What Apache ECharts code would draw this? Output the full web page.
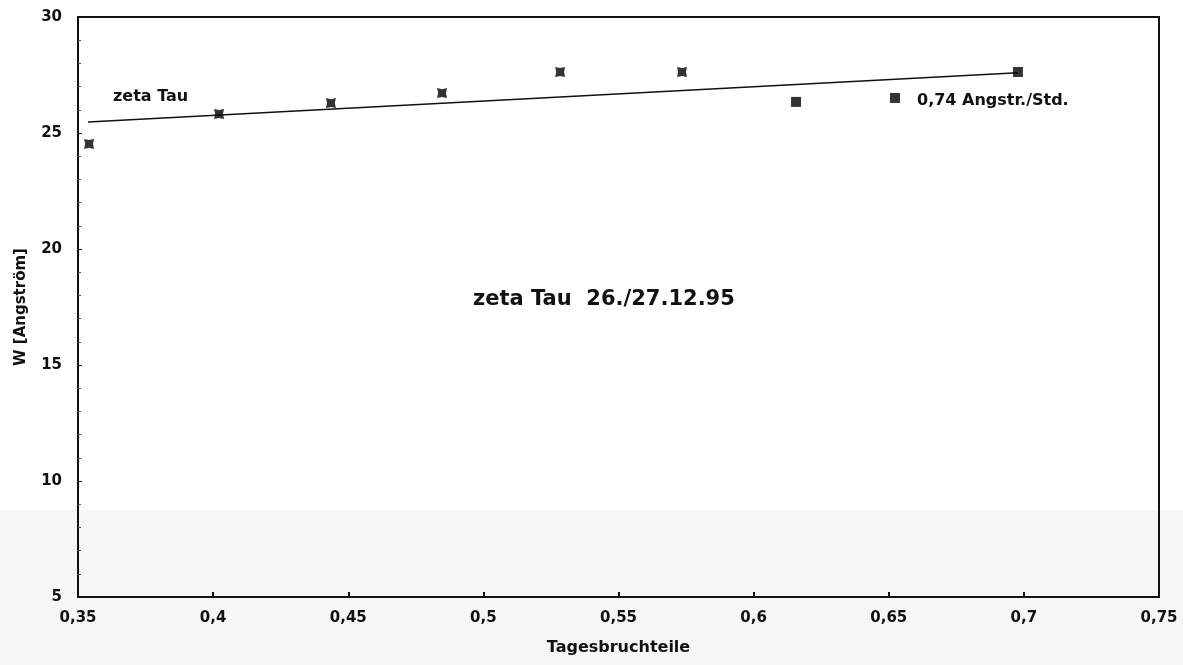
<!DOCTYPE html>
<html>
<head>
<meta charset="utf-8">
<script src="https://cdn.jsdelivr.net/npm/echarts@6/dist/echarts.min.js"></script>
<style>
html,body{margin:0;padding:0;background:#fff;}
#c{width:1183px;height:665px;}
</style>
</head>
<body>
<div id="c"></div>
<script>
// Measured points: Tagesbruchteile (x) and equivalent width W [Angström] (y)
var xValues = [0.3541, 0.4022, 0.4436, 0.4847, 0.5284, 0.5735, 0.6157, 0.6523, 0.6978];
var wValues = [24.53, 25.82, 26.29, 26.72, 27.63, 27.63, 26.34, 26.51, 27.63];
// marker style per point: 'star' = notched square, 'square' = plain square
var markerKinds = ['star', 'star', 'star', 'star', 'star', 'star', 'square', 'square', 'square'];
// Trend line end points
var trendX = [0.3537, 0.6978];
var trendW = [25.47, 27.60];
// Tick labels
var xTickLabels = ['0,35', '0,4', '0,45', '0,5', '0,55', '0,6', '0,65', '0,7', '0,75'];
var yTickLabels = ['5', '10', '15', '20', '25', '30'];

var FONT = '"DejaVu Sans", sans-serif';
var notched = 'path://M0,0 L5,1.1 L10,0 L8.9,5 L10,10 L5,8.9 L0,10 L1.1,5 Z';

var pts = xValues.map(function (x, i) {
  return {
    value: [x, wValues[i]],
    symbol: markerKinds[i] === 'star' ? notched : 'rect'
  };
});
var trend = trendX.map(function (x, i) { return [x, trendW[i]]; });

var chart = echarts.init(document.getElementById('c'), null, { renderer: 'canvas' });
chart.setOption({
  animation: false,
  backgroundColor: '#ffffff',
  graphic: [
    { type: 'rect', z: -10, silent: true, shape: { x: 0, y: 510, width: 1183, height: 155 }, style: { fill: '#f6f6f6' } },
    { type: 'text', left: 113, top: 89, style: { text: 'zeta Tau', font: 'bold 16px ' + FONT, fill: '#111' } },
    { type: 'text', left: 917, top: 93, style: { text: '0,74 Angstr./Std.', font: 'bold 16px ' + FONT, fill: '#111' } },
    { type: 'text', left: 473, top: 289, style: { text: 'zeta Tau  26./27.12.95', font: 'bold 21px ' + FONT, fill: '#111' } }
  ],
  grid: { left: 78, right: 24, top: 17, bottom: 68, show: true, borderColor: '#111', borderWidth: 2, backgroundColor: 'transparent' },
  xAxis: {
    type: 'value', min: 0.35, max: 0.75, interval: 0.05,
    name: 'Tagesbruchteile', nameLocation: 'middle', nameGap: 43,
    nameTextStyle: { fontFamily: FONT, fontWeight: 'bold', fontSize: 16, color: '#111' },
    axisLine: { show: true, lineStyle: { color: '#111', width: 2 } },
    axisTick: { show: true, inside: true, length: 5, lineStyle: { color: '#111', width: 2 } },
    axisLabel: {
      margin: 14, fontFamily: FONT, fontWeight: 'bold', fontSize: 15, color: '#111',
      formatter: function (v) { return xTickLabels[Math.round((v - 0.35) / 0.05)]; }
    },
    splitLine: { show: false }
  },
  yAxis: {
    type: 'value', min: 5, max: 30, interval: 5,
    name: 'W [Angström]', nameLocation: 'middle', nameGap: 49, nameRotate: 90,
    nameTextStyle: { fontFamily: FONT, fontWeight: 'bold', fontSize: 15, color: '#111' },
    axisLine: { show: true, lineStyle: { color: '#111', width: 2 } },
    axisTick: { show: true, inside: true, length: 4, lineStyle: { color: '#111', width: 1 } },
    minorTick: { show: true, splitNumber: 5, length: 3, lineStyle: { color: '#555', width: 1 } },
    axisLabel: {
      margin: 16, fontFamily: FONT, fontWeight: 'bold', fontSize: 15, color: '#111',
      formatter: function (v) { return yTickLabels[Math.round((v - 5) / 5)]; }
    },
    splitLine: { show: false }
  },
  series: [
    {
      type: 'line', data: trend, showSymbol: false, symbol: 'none',
      lineStyle: { color: '#111', width: 1.5 }, z: 2
    },
    {
      type: 'scatter', data: pts, symbolSize: 10,
      itemStyle: { color: '#000' }, z: 3
    }
  ]
});
</script>
</body>
</html>
